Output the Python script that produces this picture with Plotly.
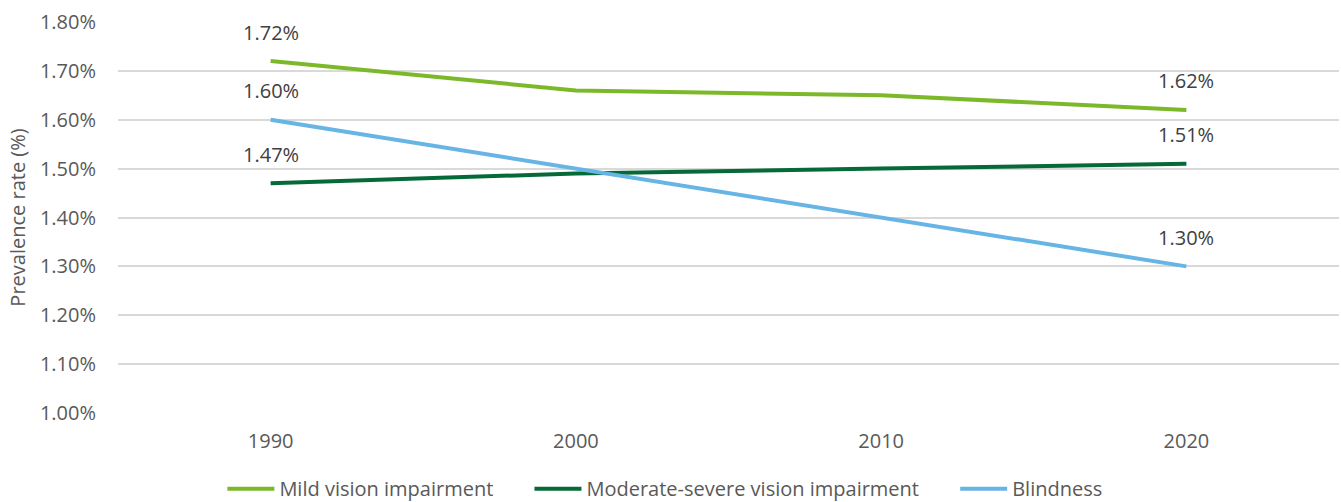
import plotly.graph_objects as go

years = ["1990", "2000", "2010", "2020"]
mild = [1.72, 1.66, 1.65, 1.62]
moderate = [1.47, 1.49, 1.50, 1.51]
blindness = [1.60, 1.50, 1.40, 1.30]
y_ticks = [1.0, 1.1, 1.2, 1.3, 1.4, 1.5, 1.6, 1.7, 1.8]

series = [
    ("Mild vision impairment", mild, "#7CB92A"),
    ("Moderate-severe vision impairment", moderate, "#066A38"),
    ("Blindness", blindness, "#66B5E5"),
]

font = "Open Sans"
pad = "\u00a0" * 6  # extra room between legend entries
fig = go.Figure()

for name, vals, color in series:
    fig.add_trace(go.Scatter(
        x=years, y=vals, name=name + pad, mode="lines",
        line=dict(color=color, width=4),
    ))
    # labels only on first and last point (x given as category index)
    for i in (0, len(vals) - 1):
        fig.add_annotation(
            x=i, y=vals[i], text=f"{vals[i]:.2f}%",
            showarrow=False, yshift=29,
            font=dict(family=font, size=20, color="#404040"),
        )

fig.update_layout(
    width=1341, height=502,
    margin=dict(l=118, r=2, t=21, b=88, autoexpand=False),
    paper_bgcolor="white", plot_bgcolor="white",
    font=dict(family=font, size=20, color="#595959"),
    showlegend=True,
    legend=dict(
        orientation="h", x=0.461, xanchor="center", y=-0.19, yanchor="middle",
        itemwidth=47,
        font=dict(family=font, size=20, color="#595959"),
    ),
    xaxis=dict(type="category", categoryarray=years, range=[-0.5, 3.5],
               showgrid=False, showline=False, ticks="", ticklabelstandoff=13),
    yaxis=dict(
        range=[0.998, 1.802], tickvals=y_ticks,
        ticktext=[f"{v:.2f}%" for v in y_ticks],
        gridcolor="#D9D9D9", gridwidth=1.5, zeroline=False, showline=False,
        ticklabelstandoff=21,
        title=dict(text="Prevalence rate (%)", font=dict(size=20), standoff=8),
    ),
)

# drop the page's default body margin so the figure sits at the window corner
fig.write_html("out.html", config={"displayModeBar": False},
               post_script="document.body.style.margin='0';")
